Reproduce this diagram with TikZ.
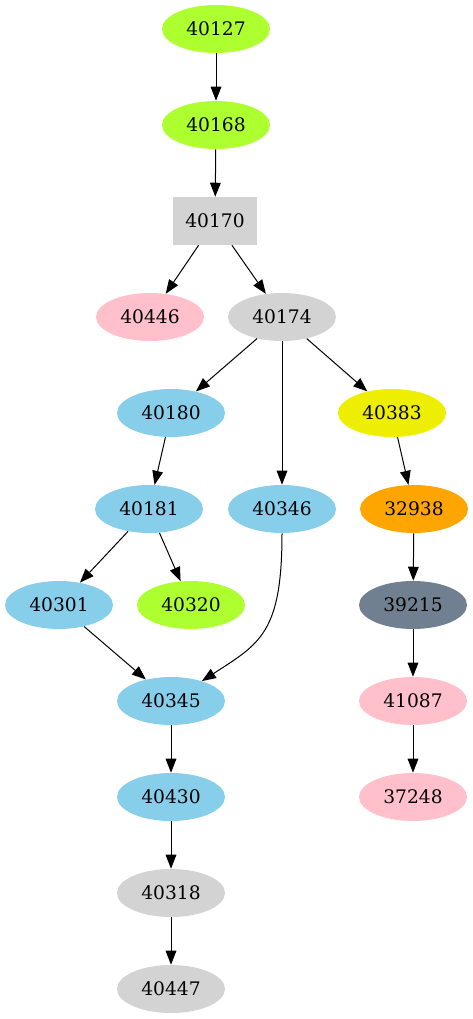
\documentclass[tikz,border=0pt]{standalone}
\usepackage{fontspec}
\setmainfont{DejaVu Serif}
\usepackage{tikz}
\usetikzlibrary{arrows.meta,shapes.geometric}

\definecolor{gvgreen}{HTML}{ADFF2F}
\definecolor{gvgray}{HTML}{D3D3D3}
\definecolor{gvpink}{HTML}{FFC0CB}
\definecolor{gvsky}{HTML}{87CEEB}
\definecolor{gvyellow}{HTML}{EEEE00}
\definecolor{gvorange}{HTML}{FFA500}
\definecolor{gvslate}{HTML}{708090}

\begin{document}
\begin{tikzpicture}[x=0.75pt,y=-0.75pt]

% --- STYLES ---
\tikzset{
  job/.style={ellipse, fill=#1, draw=none, inner sep=0pt,
              minimum width=81pt, minimum height=36pt,
              font=\fontsize{14}{16}\selectfont},
  jobbox/.style={rectangle, fill=#1, draw=none, inner sep=0pt,
                 minimum width=63pt, minimum height=36pt,
                 font=\fontsize{14}{16}\selectfont},
  dep/.style={black, line width=0.75pt,
              -{Triangle[length=10.5pt, width=8pt]}},
}

\useasboundingbox (0,0) rectangle (473,1019);

% ================= LEFT CHAIN =================
\node[job=gvgreen]   (n40127) at (216,  29) {40127};
\node[job=gvgreen]   (n40168) at (216, 125) {40168};
\node[jobbox=gvgray] (n40170) at (215, 221) {40170};
\node[job=gvpink]    (n40446) at (150, 317) {40446};
\node[job=gvgray]    (n40174) at (282, 317) {40174};
\node[job=gvsky]     (n40180) at (171, 413) {40180};
\node[job=gvsky]     (n40181) at (149, 509) {40181};
\node[job=gvsky]     (n40346) at (282, 509) {40346};
\node[job=gvsky]     (n40301) at ( 59, 605) {40301};
\node[job=gvgreen]   (n40320) at (191, 605) {40320};
\node[job=gvsky]     (n40345) at (171, 701) {40345};
\node[job=gvsky]     (n40430) at (171, 797) {40430};
\node[job=gvgray]    (n40318) at (171, 893) {40318};
\node[job=gvgray]    (n40447) at (171, 989) {40447};

% ================= RIGHT CHAIN =================
\node[job=gvyellow]  (n40383) at (392, 413) {40383};
\node[job=gvorange]  (n32938) at (414, 509) {32938};
\node[job=gvslate]   (n39215) at (413, 605) {39215};
\node[job=gvpink]    (n41087) at (413, 701) {41087};
\node[job=gvpink]    (n37248) at (413, 797) {37248};

% ================= DEPENDENCIES =================
\foreach \a/\b in {
    40127/40168, 40168/40170, 40170/40446, 40170/40174,
    40174/40180, 40174/40346, 40174/40383, 40180/40181,
    40383/32938, 40181/40301, 40181/40320, 32938/39215,
    40301/40345, 39215/41087, 40345/40430, 41087/37248,
    40430/40318, 40318/40447%
} {
    \draw[dep] (n\a) -- (n\b);
}

% curved one
\draw[dep] (n40346) .. controls +(0,124) and +(89,-57.5) .. (n40345);

\end{tikzpicture}
\end{document}
